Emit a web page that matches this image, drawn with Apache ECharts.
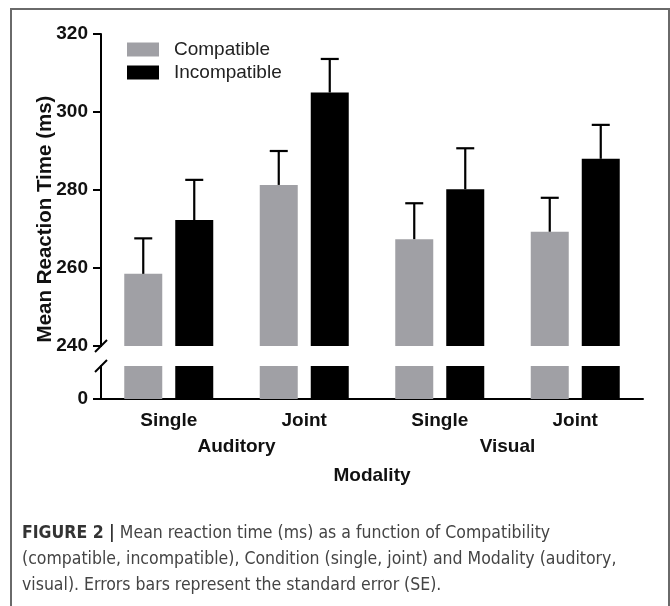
<!DOCTYPE html>
<html>
<head>
<meta charset="utf-8">
<script src="https://cdn.jsdelivr.net/npm/echarts@6/dist/echarts.min.js"></script>
<style>
  html, body { margin: 0; padding: 0; background: #fff; }
  .outbox { position: relative; width: 670px; height: 606px; overflow: hidden; }
  .frame { position: absolute; left: 10px; top: 8px; width: 656px; height: 700px; border: 2px solid #6a6a6a; }
  #chart { position: absolute; left: 0; top: 0; width: 670px; height: 606px; }
</style>
</head>
<body>
<div class="outbox">
  <div class="frame"></div>
  <div id="chart"></div>
</div>
<script>
// data
var conditions = ["Single", "Joint", "Single", "Joint"];
var modalities = ["Auditory", "Visual"];
var compatible = [258.5, 281.3, 267.4, 269.3];
var compatibleSE = [9.1, 8.7, 9.2, 8.7];
var incompatible = [272.3, 305.0, 280.2, 288.0];
var incompatibleSE = [10.3, 8.6, 10.5, 8.7];
var yTicks = [240, 260, 280, 300, 320];

var GRID_LEFT = 101;
var GRID_WIDTH = 542;
var BAR_W = 38;
var BAR_GAP = 13;
var FONT = "'Liberation Sans', Arial, sans-serif";
var CAPTION_FONT = "'Liberation Sans Narrow', 'DejaVu Sans Condensed', sans-serif";
var GRAY = "#a0a0a5";

var chart = echarts.init(document.getElementById("chart"));

function errorSeries(means, errs, shift) {
  return {
    type: "custom",
    xAxisIndex: 0,
    yAxisIndex: 0,
    z: 5,
    silent: true,
    data: means.map(function(m, i) { return [i, m, errs[i]]; }),
    renderItem: function(params, api) {
      var base = api.coord([api.value(0), api.value(1)]);
      var top = api.coord([api.value(0), api.value(1) + api.value(2)]);
      var x = base[0] + shift;
      var style = { stroke: "#000", lineWidth: 2.2 };
      return {
        type: "group",
        children: [
          { type: "line", shape: { x1: x, y1: base[1], x2: x, y2: top[1] }, style: style },
          { type: "line", shape: { x1: x - 9, y1: top[1], x2: x + 9, y2: top[1] }, style: style }
        ]
      };
    }
  };
}

var shift = (BAR_W + BAR_GAP) / 2;
var bold = { fontFamily: FONT, fontWeight: "bold", fontSize: 19, color: "#111" };
var axisBlack = { lineStyle: { color: "#000", width: 2 } };

chart.setOption({
  animation: false,
  legend: {
    orient: "vertical",
    left: 127,
    top: 40,
    padding: 0,
    itemWidth: 32,
    itemHeight: 14,
    itemGap: 4,
    icon: "rect",
    data: ["Compatible", "Incompatible"],
    textStyle: { fontFamily: FONT, fontSize: 19, color: "#222", padding: [0, 0, 0, 10], lineHeight: 19 }
  },
  grid: [
    { left: GRID_LEFT, top: 34, width: GRID_WIDTH, height: 312 },
    { left: GRID_LEFT, top: 366, width: GRID_WIDTH, height: 33 }
  ],
  xAxis: [
    { type: "category", gridIndex: 0, data: conditions, show: false },
    {
      type: "category",
      gridIndex: 1,
      data: conditions,
      axisLine: axisBlack,
      axisTick: { alignWithLabel: true, length: 6, lineStyle: { color: "#000", width: 2 } },
      axisLabel: Object.assign({ margin: 12 }, bold)
    },
    {
      type: "category",
      gridIndex: 1,
      data: modalities,
      position: "bottom",
      offset: 28,
      axisLine: { show: false },
      axisTick: { show: false },
      axisLabel: Object.assign({ margin: 10 }, bold),
      name: "Modality",
      nameLocation: "middle",
      nameGap: 39,
      nameMoveOverlap: false,
      nameTextStyle: bold
    }
  ],
  yAxis: [
    {
      type: "value",
      gridIndex: 0,
      min: yTicks[0],
      max: yTicks[yTicks.length - 1],
      interval: 20,
      splitLine: { show: false },
      axisLine: { show: true, lineStyle: { color: "#000", width: 2 } },
      axisTick: { show: true, length: 8, lineStyle: { color: "#000", width: 2 } },
      axisLabel: Object.assign({ margin: 13 }, bold),
      name: "Mean Reaction Time (ms)",
      nameLocation: "middle",
      nameGap: 45,
      nameMoveOverlap: false,
      // name sits on the middle of the whole broken axis, not just the upper part
      nameTextStyle: { fontFamily: FONT, fontWeight: "bold", fontSize: 20.5, color: "#111", padding: [0, 58, 0, 0] }
    },
    {
      type: "value",
      gridIndex: 1,
      min: 0,
      max: 10,
      interval: 10,
      splitLine: { show: false },
      axisLine: { show: true, lineStyle: { color: "#000", width: 2 } },
      axisTick: { show: true, length: 8, customValues: [0], lineStyle: { color: "#000", width: 2 } },
      axisLabel: Object.assign({ margin: 13, customValues: [0] }, bold)
    }
  ],
  series: [
    // upper part (240 - 320)
    { name: "Compatible", type: "bar", xAxisIndex: 0, yAxisIndex: 0, data: compatible, barWidth: BAR_W, barGap: (BAR_GAP / BAR_W * 100) + "%", itemStyle: { color: GRAY }, clip: true },
    { name: "Incompatible", type: "bar", xAxisIndex: 0, yAxisIndex: 0, data: incompatible, barWidth: BAR_W, itemStyle: { color: "#000" }, clip: true },
    // lower stub below the break
    { name: "Compatible", type: "bar", xAxisIndex: 1, yAxisIndex: 1, data: compatible, barWidth: BAR_W, barGap: (BAR_GAP / BAR_W * 100) + "%", itemStyle: { color: GRAY }, clip: true },
    { name: "Incompatible", type: "bar", xAxisIndex: 1, yAxisIndex: 1, data: incompatible, barWidth: BAR_W, itemStyle: { color: "#000" }, clip: true },
    errorSeries(compatible, compatibleSE, -shift),
    errorSeries(incompatible, incompatibleSE, shift)
  ]
});

// break marks on the y axis + caption
var yBreakTop = chart.convertToPixel({ yAxisIndex: 0 }, yTicks[0]);
var yBreakBottom = chart.convertToPixel({ yAxisIndex: 1 }, 10);
var slash = { stroke: "#000", lineWidth: 2 };
chart.setOption({
  graphic: [
    { type: "line", shape: { x1: GRID_LEFT - 6, y1: yBreakTop + 6, x2: GRID_LEFT + 6, y2: yBreakTop - 6 }, style: slash },
    { type: "line", shape: { x1: GRID_LEFT - 6, y1: yBreakBottom + 6, x2: GRID_LEFT + 6, y2: yBreakBottom - 6 }, style: slash },
    {
      type: "text",
      left: 22,
      top: 520,
      style: {
        text: "{b|FIGURE 2 |} Mean reaction time (ms) as a function of Compatibility\n(compatible, incompatible), Condition (single, joint) and Modality (auditory,\nvisual). Errors bars represent the standard error (SE).",
        fontFamily: CAPTION_FONT,
        fontSize: 17.5,
        lineHeight: 26,
        fill: "#444",
        rich: {
          b: { fontFamily: CAPTION_FONT, fontWeight: "bold", fontSize: 17.5, lineHeight: 26, fill: "#333" }
        }
      }
    }
  ]
});
</script>
</body>
</html>
